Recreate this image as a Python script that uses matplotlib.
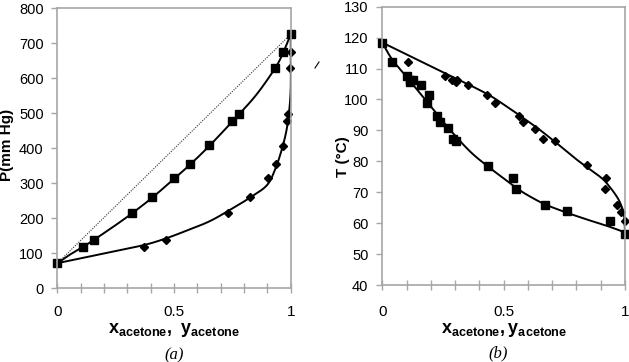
import matplotlib
matplotlib.use('Agg')
import matplotlib.pyplot as plt
from matplotlib.lines import Line2D
import numpy as np

plt.rcParams['font.family'] = ['Liberation Sans', 'DejaVu Sans']
plt.rcParams['mathtext.fontset'] = 'custom'
plt.rcParams['mathtext.rm'] = 'Liberation Sans'
plt.rcParams['mathtext.bf'] = 'Liberation Sans:bold'

# (a) P-x-y data, acetone
px_liq = [0, 0.108, 0.155, 0.321, 0.406, 0.498, 0.569, 0.651, 0.749, 0.778, 0.932, 0.966, 1.0]
p_liq = [71, 116, 137, 215, 259, 313, 355, 408, 476, 497, 629, 673, 725]
py_vap = [0.372, 0.466, 0.729, 0.825, 0.901, 0.937, 0.965, 0.985, 0.99, 0.997, 1.0]
p_vap = [116, 137, 215, 259, 313, 355, 407, 476, 497, 629, 673]

# (a) model curves
pcx_liq = [0, 0.05, 0.108, 0.155, 0.25, 0.321, 0.406, 0.498, 0.569, 0.651, 0.75, 0.85, 0.932, 0.966, 1.0]
pc_liq = [71, 94, 117, 137, 180, 214, 258, 311, 353, 406, 476, 550, 627, 670, 725]
pcy_vap = [0, 0.2, 0.372, 0.466, 0.55, 0.65, 0.739, 0.825, 0.897, 0.932, 0.961, 0.982, 0.994, 1.0, 1.0, 1.0]
pc_vap = [71, 99, 123, 142, 163, 190, 223, 258, 293, 337, 394, 451, 509, 570, 651, 725]
raoult_x = [0, 1]
raoult_p = [71, 725]

# (b) T-x-y data
tx_liq = [0, 0.04, 0.102, 0.113, 0.127, 0.115, 0.158, 0.194, 0.184, 0.225, 0.236, 0.269,
          0.293, 0.304, 0.434, 0.539, 0.552, 0.670, 0.761, 0.938, 1.0]
t_liq = [118.4, 112.2, 107.5, 106.3, 106.4, 105.6, 104.8, 101.5, 98.9, 94.6, 92.7, 90.7,
         87.1, 86.5, 78.6, 74.5, 71.0, 65.9, 63.8, 60.7, 56.5]
ty_vap = [0.106, 0.257, 0.289, 0.302, 0.308, 0.355, 0.433, 0.464, 0.563, 0.581, 0.630,
          0.662, 0.710, 0.843, 0.921, 0.918, 0.968, 0.983, 1.0]
t_vap = [112.2, 107.6, 106.4, 105.7, 106.3, 104.8, 101.6, 99.0, 94.6, 92.7, 90.6,
         87.1, 86.5, 78.7, 74.5, 71.0, 65.8, 63.7, 60.8]

# (b) model curves
tcx_liq = [0, 0.04, 0.1, 0.184, 0.27, 0.36, 0.434, 0.5, 0.552, 0.6, 0.67, 0.76, 0.85, 0.93, 1.0]
tc_liq = [118.4, 113.0, 107.3, 99.3, 91.0, 83.3, 78.4, 74.5, 71.4, 69.0, 66.1, 63.4, 61.0, 59.0, 57.0]
tcy_vap = [0, 0.2, 0.412, 0.5, 0.563, 0.63, 0.71, 0.8, 0.897, 0.93, 0.966, 0.985, 0.996, 1.0]
tc_vap = [118.4, 110.7, 102.6, 98.4, 95.0, 91.3, 86.4, 80.6, 75.0, 72.4, 68.6, 65.6, 62.5, 56.8]

grey = '#a6a6a6'


def smooth(xs, ys, n=20):
    # Catmull-Rom path through the read points
    pts = np.column_stack([xs, np.asarray(ys, float) / 800.0])
    pts = np.vstack([pts[0], pts, pts[-1]])
    out = []
    for i in range(1, len(pts) - 2):
        p0, p1, p2, p3 = pts[i - 1], pts[i], pts[i + 1], pts[i + 2]
        for t in np.linspace(0, 1, n, endpoint=False):
            out.append(0.5 * ((2 * p1) + (-p0 + p2) * t
                              + (2 * p0 - 5 * p1 + 4 * p2 - p3) * t ** 2
                              + (-p0 + 3 * p1 - 3 * p2 + p3) * t ** 3))
    out.append(pts[-2])
    out = np.array(out)
    return out[:, 0], out[:, 1] * 800.0


def style_axes(ax, ylim, yticks, xpad):
    ax.set_xlim(0, 1)
    ax.set_ylim(*ylim)
    ax.set_yticks(yticks)
    ax.set_xticks([0, 0.5, 1])
    ax.set_xticklabels(['0', '0.5', '1'])
    ax.set_xticks([i / 10 for i in range(11)], minor=True)
    for s in ax.spines.values():
        s.set_color(grey)
        s.set_linewidth(1.2)
    ax.tick_params(axis='x', which='both', direction='inout', length=7, color=grey,
                   width=1, pad=xpad, labelsize=11)
    ax.tick_params(axis='y', direction='out', length=4, color=grey, width=1,
                   pad=6, labelsize=10.5)
    ax.tick_params(axis='x', which='minor', labelbottom=False)


fig = plt.figure(figsize=(6.29, 3.62), dpi=100)

# panel (a)
ax1 = fig.add_axes([0.0914, 0.2044, 0.3708, 0.7735])
ax1.plot(raoult_x, raoult_p, color='#333333', lw=0.8, ls=(0, (1, 1.2)))
ax1.plot(*smooth(pcx_liq, pc_liq), color='black', lw=1.4)
ax1.plot(*smooth(pcy_vap, pc_vap), color='black', lw=1.4)
ax1.plot(px_liq, p_liq, 's', color='black', ms=5.5, clip_on=False)
ax1.plot(py_vap, p_vap, 'D', color='black', ms=4, clip_on=False)
style_axes(ax1, (0, 800), range(0, 801, 100), 9)
ax1.set_ylabel('P(mm Hg)', fontsize=11, fontweight='bold')
ax1.yaxis.set_label_coords(-43 / 233, 0.51)
ax1.set_xlabel(r'$\mathbf{x}_{\mathbf{acetone}}\mathbf{,\ y}_{\mathbf{acetone}}$', fontsize=13, labelpad=1)

# panel (b)
ax2 = fig.add_axes([0.6078, 0.2127, 0.3859, 0.7688])
ax2.plot(*smooth(tcx_liq, tc_liq), color='black', lw=1.4)
ax2.plot(*smooth(tcy_vap, tc_vap), color='black', lw=1.4)
ax2.plot(tx_liq, t_liq, 's', color='black', ms=5.5, clip_on=False)
ax2.plot(ty_vap, t_vap, 'D', color='black', ms=4, clip_on=False)
style_axes(ax2, (40, 130), range(40, 131, 10), 11)
ax2.set_ylabel('T (°C)', fontsize=11, fontweight='bold')
ax2.yaxis.set_label_coords(-32 / 243, 0.46)
ax2.set_xlabel(r'$\mathbf{x}_{\mathbf{acetone}}\mathbf{,y}_{\mathbf{acetone}}$', fontsize=13, labelpad=1)

# panel captions
fig.text(174 / 629, 1 - 355 / 362, '(a)', family='Liberation Serif', style='italic',
         fontsize=12, ha='center', va='center')
fig.text(498 / 629, 1 - 353 / 362, '(b)', family='Liberation Serif', style='italic',
         fontsize=12, ha='center', va='center')

# stray slash between the panels
fig.add_artist(Line2D([315 / 629, 319 / 629], [1 - 68 / 362, 1 - 62 / 362],
                      color='black', lw=0.8, transform=fig.transFigure))

fig.savefig('out.png', dpi=100)
